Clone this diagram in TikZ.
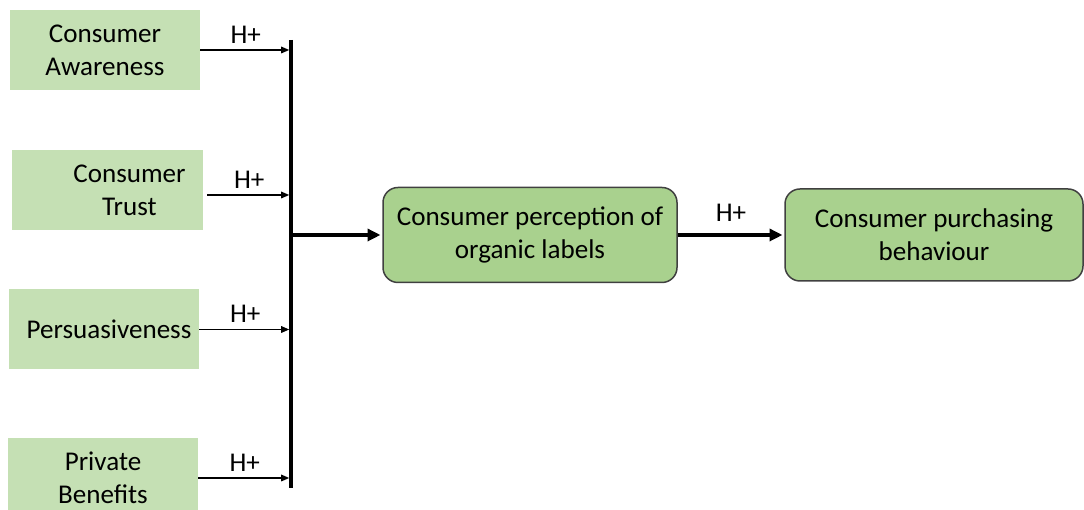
\documentclass[tikz,border=0pt]{standalone}
\usepackage{fontspec}
\setmainfont{Carlito}
\usepackage{xcolor}
\usetikzlibrary{positioning,arrows.meta}

\definecolor{factorfill}{HTML}{C5E0B4}
\definecolor{outfill}{HTML}{A9D18E}
\definecolor{edgegray}{HTML}{404040}

\begin{document}
\begin{tikzpicture}[shorten >=1pt, node distance=8.08cm, on grid, auto,
  font=\fontsize{15.4}{18.8}\selectfont,
  factor/.style={fill=factorfill, minimum width=3.8cm, minimum height=1.6cm, align=center, inner sep=0pt},
  outcome/.style={draw=edgegray, line width=0.85pt, fill=outfill, rounded corners=0.3cm, minimum height=1.84cm, align=center},
  link/.style={-{Triangle[length=0.16cm,width=0.13cm]}, line width=0.85pt},
  mainlink/.style={-{Triangle[length=0.26cm,width=0.24cm]}, line width=2.2pt}]

  \useasboundingbox (0,0) rectangle (21.68,10.2);

  \node[factor] (aware) at (2.1,9.2) {Consumer\\Awareness};
  \node[factor, minimum width=3.82cm] (trust) at (2.15,6.4) {\hspace*{0.88cm}Consumer\\\hspace*{0.88cm}Trust};
  \node[factor] (persu) at (2.08,3.61) {\hspace*{0.2cm}Persuasiveness};
  \node[factor] (priv) at (2.06,0.64) {Private\\Benefits};

  \coordinate (bustop) at (5.82,9.4);
  \coordinate (busbot) at (5.82,0.4);
  \draw[line width=2.3pt] (bustop) -- (busbot);

  \node[outcome, minimum width=5.88cm, minimum height=1.9cm] (percep) at (10.6,5.5) {Consumer perception of\\organic labels};
  \node[outcome, minimum width=5.96cm] (behav) [right=of percep] {Consumer purchasing\\behaviour};

  \coordinate (t2) at ([xshift=0.08cm,yshift=-0.1cm]trust.east);

  \path[link]
    (aware.east) edge node {H+} (aware.east -| bustop)
    (t2) edge node {H+} (t2 -| bustop)
    (persu.east) edge node {H+} (persu.east -| bustop)
    (priv.east) edge node {H+} (priv.east -| bustop);

  \path[mainlink]
    (percep.west -| bustop) edge (percep)
    (percep) edge node[yshift=0.12cm] {H+} (behav);
\end{tikzpicture}
\end{document}
